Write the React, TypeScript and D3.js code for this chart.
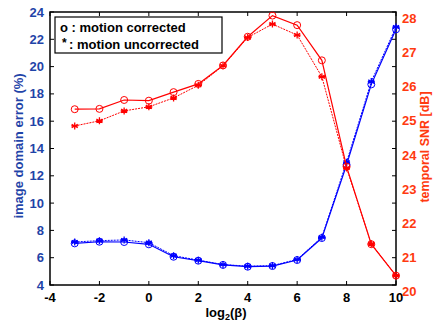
import React from "react";
import * as d3 from "d3";

const xs = [-3, -2, -1, 0, 1, 2, 3, 4, 5, 6, 7, 8, 9, 10];
const errCorrected = [7.05, 7.17, 7.15, 6.98, 6.07, 5.78, 5.47, 5.34, 5.39, 5.83, 7.44, 12.8, 18.7, 22.73];
const errUncorrected = [7.15, 7.25, 7.3, 7.1, 6.15, 5.82, 5.5, 5.38, 5.42, 5.87, 7.5, 13.0, 18.9, 22.9];
const snrCorrected = [25.34, 25.35, 25.61, 25.59, 25.84, 26.08, 26.62, 27.46, 28.08, 27.8, 26.77, 23.66, 21.39, 20.47];
const snrUncorrected = [24.85, 25.0, 25.29, 25.41, 25.67, 26.04, 26.61, 27.44, 27.83, 27.51, 26.29, 23.62, 21.4, 20.47];
const xTicks = [-4, -2, 0, 2, 4, 6, 8, 10];
const leftTicks = [4, 6, 8, 10, 12, 14, 16, 18, 20, 22, 24];
const rightTicks = [20, 21, 22, 23, 24, 25, 26, 27, 28];

const BLUE = "#0000ff";
const RED = "#ff0000";
const BLUE_TXT = "#1f44a8";
const RED_TXT = "#ff3a10";
const FONT = "Liberation Sans, Arial, sans-serif";

function Star({ x, y, color }: { x: number; y: number; color: string }) {
  const r = 3.5;
  const d = [0, 60, 120].map((a) => {
    const rad = (a * Math.PI) / 180;
    return `M${x - r * Math.sin(rad)},${y - r * Math.cos(rad)}L${x + r * Math.sin(rad)},${y + r * Math.cos(rad)}`;
  }).join("") + `M${x - r},${y}L${x + r},${y}`;
  return <path d={d} stroke={color} strokeWidth={1.3} fill="none" />;
}

export default function App() {
  const L = 50, R = 396, T = 12, B = 285;
  const x = d3.scaleLinear().domain([-4, 10]).range([L, R]);
  const yl = d3.scaleLinear().domain([4, 24]).range([B, T]);
  const yr = d3.scaleLinear().domain([20, 28]).range([291.7, 18.3]);

  const lineL = d3.line<number>().x((_, i) => x(xs[i])).y((d) => yl(d));
  const lineR = d3.line<number>().x((_, i) => x(xs[i])).y((d) => yr(d));

  return (
    <svg width={433} height={323} style={{ position: "absolute", left: 0, top: 0, background: "#fff" }} fontFamily={FONT}>
      <rect x={0} y={0} width={433} height={323} fill="#fff" />
      {/* frame */}
      <rect x={L} y={T} width={R - L} height={B - T} fill="none" stroke="#000" strokeWidth={1.5} />
      {/* x ticks */}
      {xTicks.map((t) => (
        <g key={"x" + t}>
          <line x1={x(t)} x2={x(t)} y1={B} y2={B - 4} stroke="#000" />
          <line x1={x(t)} x2={x(t)} y1={T} y2={T + 4} stroke="#000" />
          <text x={x(t)} y={302} textAnchor="middle" fontSize={13} fontWeight="bold" fill="#000">{t}</text>
        </g>
      ))}
      {/* left ticks (mirrored on right frame) */}
      {leftTicks.map((t) => (
        <g key={"l" + t}>
          <line x1={L} x2={L + 4} y1={yl(t)} y2={yl(t)} stroke="#000" />
          <line x1={R} x2={R - 4} y1={yl(t)} y2={yl(t)} stroke="#000" />
          <text x={44} y={yl(t) + 4.5} textAnchor="end" fontSize={13} fontWeight="bold" fill={BLUE_TXT}>{t}</text>
        </g>
      ))}
      {/* right tick labels */}
      {rightTicks.map((t) => (
        <text key={"r" + t} x={402} y={yr(t) + 4.5} textAnchor="start" fontSize={13} fontWeight="bold" fill={RED_TXT}>{t}</text>
      ))}
      {/* blue series */}
      <path d={lineL(errUncorrected) || ""} fill="none" stroke={BLUE} strokeWidth={1} strokeDasharray="2,1" />
      <path d={lineL(errCorrected) || ""} fill="none" stroke={BLUE} strokeWidth={1.2} />
      {errCorrected.map((v, i) => (
        <circle key={"bc" + i} cx={x(xs[i])} cy={yl(v)} r={3.5} fill="none" stroke={BLUE} strokeWidth={1} />
      ))}
      {errUncorrected.map((v, i) => (
        <Star key={"bs" + i} x={x(xs[i])} y={yl(v)} color={BLUE} />
      ))}
      {/* red series */}
      <path d={lineR(snrUncorrected) || ""} fill="none" stroke={RED} strokeWidth={1} strokeDasharray="2,1" />
      <path d={lineR(snrCorrected) || ""} fill="none" stroke={RED} strokeWidth={1.2} />
      {snrCorrected.map((v, i) => (
        <circle key={"rc" + i} cx={x(xs[i])} cy={yr(v)} r={3.5} fill="none" stroke={RED} strokeWidth={1} />
      ))}
      {snrUncorrected.map((v, i) => (
        <Star key={"rs" + i} x={x(xs[i])} y={yr(v)} color={RED} />
      ))}
      {/* legend */}
      <rect x={55} y={17} width={167} height={36} fill="#fff" stroke="#000" strokeWidth={1.2} />
      <text x={60} y={32} fontSize={13} fontWeight="bold" fill="#000">o : motion corrected</text>
      <text x={62} y={47} fontSize={12} fontWeight="bold" fill="#000">*</text>
      <text x={69} y={49} fontSize={13} fontWeight="bold" fill="#000">: motion uncorrected</text>
      {/* axis labels */}
      <text x={226} y={317} textAnchor="middle" fontSize={13} fontWeight="bold" fill="#000">
        log<tspan fontSize={9} dy={3}>2</tspan><tspan dy={-3}>(β)</tspan>
      </text>
      <text transform={`translate(23,146) rotate(-90)`} textAnchor="middle" fontSize={13} fontWeight="bold" fill={BLUE_TXT}>
        image domain error (%)
      </text>
      <text transform={`translate(429,147) rotate(-90)`} textAnchor="middle" fontSize={12.5} fontWeight="bold" fill={RED_TXT}>
        temporal SNR [dB]
      </text>
    </svg>
  );
}
